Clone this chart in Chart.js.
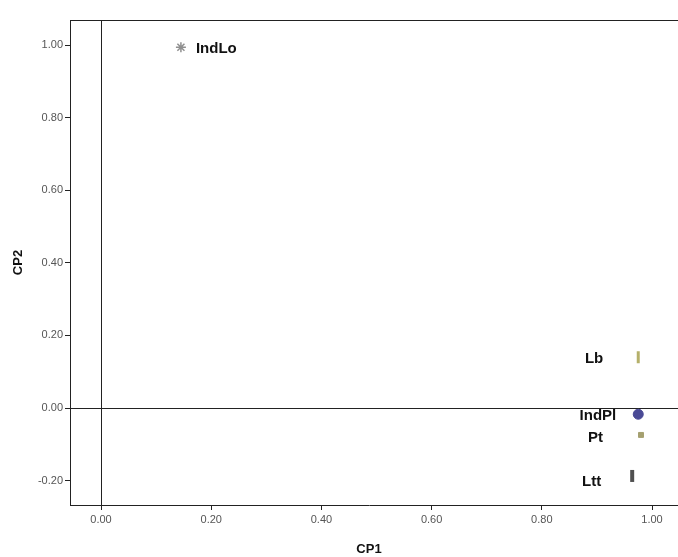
<!DOCTYPE html>
<html><head><meta charset="utf-8">
<script src="https://cdn.jsdelivr.net/npm/chart.js@4"></script>
<style>html,body{margin:0;padding:0;background:#fff;overflow:hidden}#wrap{width:678px;height:557px}canvas{display:block}</style>
</head><body><div id="wrap"><canvas id="c" width="678" height="557"></canvas></div>
<script>
const names = ["IndLo", "Lb", "IndPl", "Pt", "Ltt"];
const cp1 = [0.145, 0.975, 0.975, 0.98, 0.964];
const cp2 = [0.994, 0.14, -0.017, -0.074, -0.187];
const xTicks = [0, 0.2, 0.4, 0.6, 0.8, 1.0];
const yTicks = [-0.2, 0, 0.2, 0.4, 0.6, 0.8, 1.0];

const styles = [
  {pointStyle:'star', radius:5, color:'#909090', bw:1.5, rot:0},
  {pointStyle:'line', radius:6, color:'#b5b06a', bw:3, rot:90},
  {pointStyle:'circle', radius:5, color:'#4a4a96', bw:1, rot:0},
  {pointStyle:'rect', radius:3.5, color:'#a5a070', bw:1, rot:0},
  {pointStyle:'line', radius:6, color:'#505050', bw:4, rot:90}
];
// label placement: side and offset (px)
const labelSide = [['left',15,2],['right',-35,2],['right',-22,2],['right',-38,3],['right',-31,6]];

const datasets = names.map((n,i)=>({
  label:n,
  data:[{x:cp1[i], y:cp2[i]}],
  pointStyle:styles[i].pointStyle,
  pointRadius:styles[i].radius,
  pointRotation:styles[i].rot,
  backgroundColor:styles[i].color,
  borderColor:styles[i].color,
  pointBorderWidth:styles[i].bw
}));

const frame = {
  id:'frame',
  beforeDatasetsDraw(chart){
    const {ctx, chartArea:a, scales:{x,y}} = chart;
    const R = chart.width;
    ctx.save();
    ctx.strokeStyle='#222'; ctx.lineWidth=1;
    ctx.beginPath();
    ctx.moveTo(a.left, a.top+0.5); ctx.lineTo(R, a.top+0.5);
    ctx.moveTo(a.right, Math.round(a.bottom)+0.5); ctx.lineTo(R, Math.round(a.bottom)+0.5);
    const x0 = Math.round(x.getPixelForValue(0))+0.5;
    ctx.moveTo(x0, a.top); ctx.lineTo(x0, a.bottom);
    const y0 = Math.round(y.getPixelForValue(0))+0.5;
    ctx.moveTo(a.left, y0); ctx.lineTo(R, y0);
    ctx.stroke();
    ctx.restore();
  },
  afterDatasetsDraw(chart){
    const {ctx, scales:{x,y}} = chart;
    ctx.save();
    ctx.font='bold 15px "Liberation Sans", Arial, sans-serif';
    ctx.fillStyle='#111';
    ctx.textBaseline='middle';
    names.forEach((n,i)=>{
      const px = x.getPixelForValue(cp1[i]);
      const py = y.getPixelForValue(cp2[i]);
      const [side, dx, dy] = labelSide[i];
      ctx.textAlign = side;
      ctx.fillText(n, px+dx, py+dy);
    });
    ctx.restore();
  }
};

new Chart(document.getElementById('c'), {
  type:'scatter',
  data:{datasets},
  plugins:[frame],
  options:{
    responsive:false, animation:false,
    layout:{padding:{top:20, right:0, left:0, bottom:0}},
    plugins:{legend:{display:false}, tooltip:{enabled:false}},
    scales:{
      x:{
        type:'linear', min:-0.0563, max:1.029,
        afterBuildTicks(s){ s.ticks = xTicks.map(v=>({value:v})); },
        afterFit(s){ s.height = 52; },
        border:{display:true, color:'#222', width:1},
        grid:{drawOnChartArea:false, drawTicks:true, tickLength:5, color:'#222'},
        ticks:{color:'#555', padding:3, maxRotation:0, font:{family:'"Liberation Sans", Arial, sans-serif', size:11},
          callback:v=>Number(v).toFixed(2)},
        title:{display:true, text:'CP1', color:'#111', padding:{top:4,bottom:0},
          font:{family:'"Liberation Sans", Arial, sans-serif', size:13, weight:'bold'}}
      },
      y:{
        type:'linear', min:-0.267, max:1.069,
        afterBuildTicks(s){ s.ticks = yTicks.map(v=>({value:v})); },
        afterFit(s){ s.width = 70; s.paddingTop = 0; s.paddingBottom = 0; },
        border:{display:true, color:'#222', width:1},
        grid:{drawOnChartArea:false, drawTicks:true, tickLength:5, color:'#222'},
        ticks:{color:'#555', padding:2, font:{family:'"Liberation Sans", Arial, sans-serif', size:11},
          callback:v=>Number(v).toFixed(2)},
        title:{display:true, text:'CP2', color:'#111', padding:{top:11,bottom:6},
          font:{family:'"Liberation Sans", Arial, sans-serif', size:13, weight:'bold'}}
      }
    }
  }
});
</script></body></html>
